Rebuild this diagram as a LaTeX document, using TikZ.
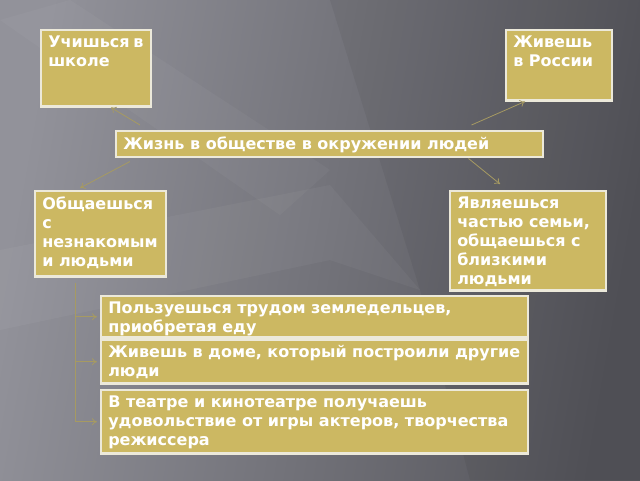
\documentclass[tikz,border=0pt]{standalone}
\usepackage{xcolor}
\usepackage{fontspec}
\setmainfont{DejaVu Sans}
\usepackage{tikz}
\usetikzlibrary{arrows.meta}

\definecolor{bgleft}{RGB}{146,146,154}
\definecolor{bgright}{RGB}{84,84,90}
\definecolor{boxtan}{RGB}{204,184,98}
\definecolor{boxedge}{RGB}{236,233,218}
\definecolor{linktan}{RGB}{166,154,98}

\newcommand{\boxtext}[3]{\parbox[t][#2][t]{#1}{\raggedright #3}}

\begin{document}
\begin{tikzpicture}[x=1pt, y=-1pt,
  tanbox/.style={fill=boxtan, draw=boxedge, line width=1.5pt, anchor=north west,
    inner xsep=7.5pt, inner ysep=6pt, text=white,
    font=\bfseries\fontsize{16}{19}\selectfont},
  bottomedge/.style={draw=boxedge, line width=3pt},
  link/.style={draw=linktan, line width=0.8pt},
  arr/.style={link, ->, >={To[length=5pt,width=7pt]}}]

% Background
\shade[left color=bgleft, right color=bgright, shading angle=80] (0,0) rectangle (640,480);
\fill[white, opacity=0.035] (0,20) -- (70,0) -- (330,170) -- (280,215) -- cycle;
\fill[white, opacity=0.04] (0,250) -- (0,330) -- (330,260) -- (420,290) -- (330,185) -- cycle;
\fill[black, opacity=0.05] (330,0) -- (640,0) -- (640,480) -- (470,480) -- (420,290) -- cycle;
\useasboundingbox (0,0) rectangle (640,480);

% Boxes
\node[tanbox] (school) at (40,29) {\boxtext{95pt}{65pt}{Учишься~в\\школе}};
\node[tanbox] (russia) at (505,29) {\boxtext{91pt}{59pt}{Живешь\\в России}};
\node[tanbox] (life) at (115,130) {\boxtext{412pt}{14pt}{Жизнь в обществе в окружении людей}};
\node[tanbox] (strangers) at (34,190) {\boxtext{116pt}{74pt}{Общаешься\\с\\незнакомым\\и людьми}};
\node[tanbox] (family) at (449,190) {\boxtext{141pt}{88pt}{Являешься\\частью семьи,\\общаешься с\\близкими\\людьми}};

% List
\node[tanbox] (food) at (100,295) {\boxtext{412pt}{30pt}{Пользуешься трудом земледельцев,\\приобретая еду}};
\node[tanbox] (house) at (100,339) {\boxtext{412pt}{32pt}{Живешь в доме, который построили другие\\люди}};
\node[tanbox] (theatre) at (100,389) {\boxtext{412pt}{52pt}{В театре и кинотеатре получаешь\\удовольствие от игры актеров, творчества\\режиссера}};

% Thick lower edges
\foreach \b in {school,russia,strangers,family,food,house,theatre}
  \draw[bottomedge] ([yshift=1.5pt]\b.south west) -- ([yshift=1.5pt]\b.south east);

% Arrows from the centre
\draw[arr] ([xshift=25pt,yshift=5pt]life.north west) -- ([xshift=71pt]school.south west);
\draw[arr] ([xshift=-72pt,yshift=5pt]life.north east) -- ([xshift=20pt]russia.south west);
\draw[arr] ([xshift=15pt,yshift=-4pt]life.south west) -- ([xshift=46pt,yshift=2pt]strangers.north west);
\draw[arr] ([xshift=-75pt,yshift=-1pt]life.south east) -- ([xshift=51pt,yshift=6pt]family.north west);

% Trunk to the list
\coordinate (trunk) at ([xshift=41pt,yshift=-5pt]strangers.south west);
\draw[arr, shorten >=3pt] (trunk) |- (theatre.west);
\draw[arr, shorten >=3pt] (trunk |- food.west) -- (food.west);
\draw[arr, shorten >=3pt] (trunk |- house.west) -- (house.west);
\end{tikzpicture}
\end{document}
